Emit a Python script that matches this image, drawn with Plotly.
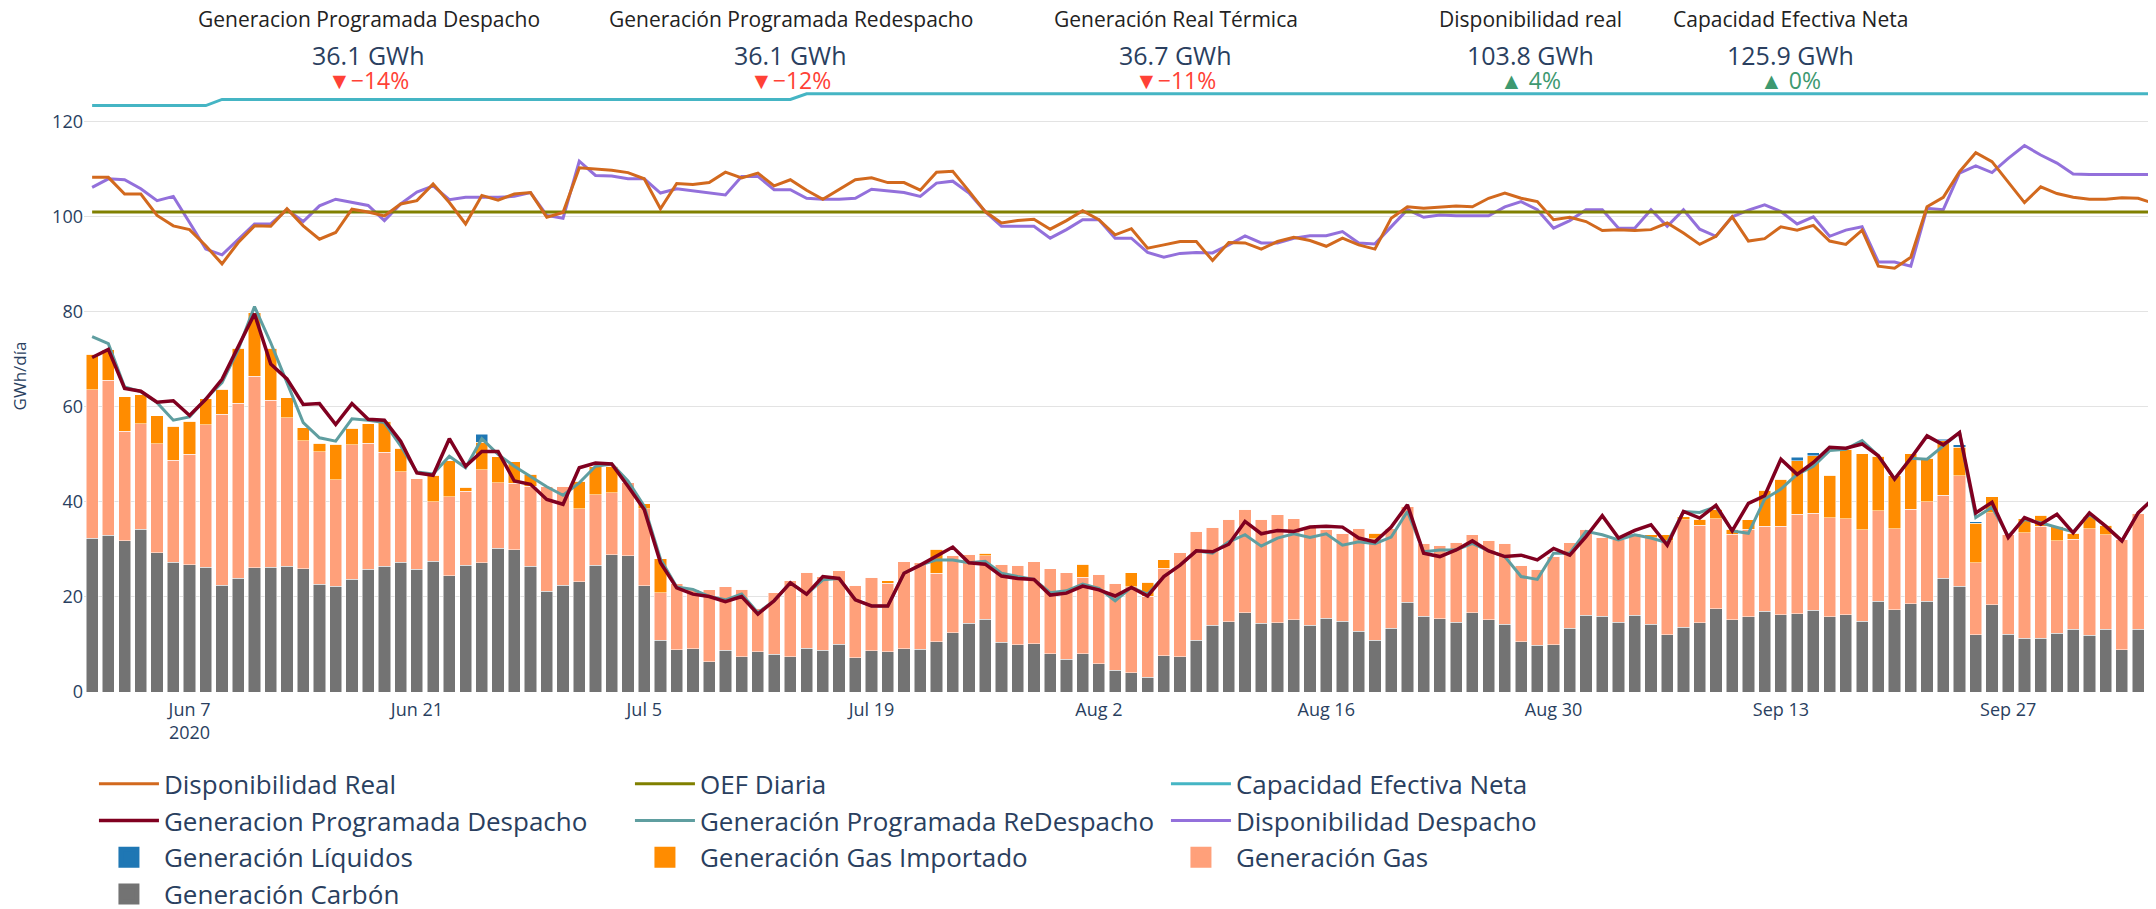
import plotly.graph_objects as go
import pandas as pd

# ---------------- data (Jun 1 2020 .. Oct 6 2020, daily) ----------------
dates = pd.date_range("2020-06-01", periods=128, freq="D").strftime("%Y-%m-%d").tolist()

carbon = [
    32.4, 33.0, 31.8, 34.2, 29.3, 27.3, 26.8, 26.3, 22.5, 23.9,
    26.1, 26.3, 26.5, 25.9, 22.7, 22.3, 23.7, 25.8, 26.5, 27.3,
    25.8, 27.5, 24.5, 26.7, 27.2, 30.3, 29.9, 26.5, 21.2, 22.5,
    23.2, 26.7, 28.9, 28.7, 22.4, 10.9, 8.9, 9.1, 6.4, 8.8,
    7.4, 8.5, 7.9, 7.4, 9.2, 8.8, 10.0, 7.2, 8.7, 8.5,
    9.1, 9.0, 10.6, 12.5, 14.5, 15.3, 10.5, 9.9, 10.2, 8.0,
    6.9, 8.1, 5.9, 4.6, 4.1, 3.1, 7.6, 7.4, 10.9, 14.0,
    14.8, 16.7, 14.5, 14.6, 15.2, 14.0, 15.5, 14.9, 12.8, 10.9,
    13.4, 18.9, 15.9, 15.4, 14.7, 16.7, 15.2, 14.3, 10.6, 9.8,
    9.9, 13.4, 16.1, 15.9, 14.7, 16.1, 14.3, 12.1, 13.6, 14.6,
    17.5, 15.2, 15.8, 17.0, 16.3, 16.5, 17.2, 15.8, 16.3, 14.9,
    19.1, 17.3, 18.6, 19.1, 23.9, 22.3, 12.0, 18.4, 12.2, 11.3,
    11.3, 12.4, 13.2, 11.9, 13.2, 8.9, 13.2, 18.2,
]

gas = [
    31.2, 32.6, 23.1, 22.3, 22.9, 21.5, 23.2, 29.9, 35.9, 36.9,
    40.3, 35.1, 31.2, 27.0, 27.9, 22.4, 28.3, 26.5, 24.0, 19.0,
    19.1, 12.5, 16.6, 15.6, 19.6, 13.7, 14.0, 16.8, 22.1, 20.8,
    15.4, 14.8, 13.0, 15.3, 16.2, 10.0, 13.9, 12.5, 15.1, 13.4,
    14.2, 9.1, 13.0, 16.0, 16.0, 15.5, 15.5, 15.3, 15.4, 14.4,
    18.3, 18.2, 14.4, 16.3, 14.5, 13.4, 16.4, 16.8, 17.2, 17.9,
    18.2, 16.0, 18.9, 18.3, 18.1, 17.0, 18.4, 21.9, 22.9, 20.7,
    21.6, 21.8, 21.9, 22.7, 21.3, 20.7, 18.7, 18.5, 21.7, 21.3,
    21.1, 20.1, 15.4, 15.5, 16.8, 16.4, 16.7, 17.0, 16.1, 16.0,
    18.6, 18.0, 18.1, 16.7, 17.3, 17.2, 18.2, 19.7, 22.6, 20.5,
    19.0, 18.0, 18.4, 17.9, 18.6, 20.9, 20.4, 20.9, 20.2, 19.2,
    19.0, 17.1, 19.9, 20.9, 17.5, 23.2, 15.2, 19.3, 21.0, 22.2,
    23.6, 19.4, 18.9, 22.5, 19.9, 23.2, 24.4, 23.2,
]

gas_importado = [
    7.5, 6.4, 7.2, 6.1, 5.9, 7.1, 7.0, 5.5, 5.3, 11.5,
    13.4, 10.9, 4.2, 2.7, 1.8, 7.4, 3.5, 4.2, 6.5, 5.0,
    0, 5.6, 7.6, 0.8, 5.8, 5.5, 4.6, 2.5, 0, 0,
    5.8, 5.9, 5.6, 0, 1.0, 7.1, 0, 0, 0, 0,
    0, 0, 0, 0, 0, 0, 0, 0, 0, 0.5,
    0, 0, 5.0, 0, 0, 0.5, 0, 0, 0, 0,
    0, 2.8, 0, 0, 2.9, 3.0, 1.8, 0, 0, 0,
    0, 0, 0, 0, 0, 0, 0, 0, 0, 1.2,
    0, 0, 0, 0, 0, 0, 0, 0, 0, 0,
    0, 0, 0, 0, 0, 0, 0.6, 1.3, 0.7, 1.3,
    2.0, 1.0, 2.1, 7.6, 9.9, 11.3, 12.1, 8.9, 14.6, 16.0,
    11.5, 11.1, 11.6, 9.2, 11.5, 6.0, 8.3, 3.4, 0, 3.0,
    2.3, 3.1, 1.3, 2.6, 2.0, 0, 0, 2.1,
]

liquidos = [
    0, 0, 0, 0, 0, 0, 0, 0, 0, 0,
    0, 0, 0, 0, 0, 0, 0, 0, 0, 0,
    0, 0, 0, 0, 1.6, 0, 0, 0, 0, 0,
    0, 0, 0, 0, 0, 0, 0, 0, 0, 0,
    0, 0, 0, 0, 0, 0, 0, 0, 0, 0,
    0, 0, 0, 0, 0, 0, 0, 0, 0, 0,
    0, 0, 0, 0, 0, 0, 0, 0, 0, 0,
    0, 0, 0, 0, 0, 0, 0, 0, 0, 0,
    0, 0, 0, 0, 0, 0, 0, 0, 0, 0,
    0, 0, 0, 0, 0, 0, 0, 0, 0, 0,
    0, 0, 0, 0, 0, 0.7, 0.7, 0, 0, 0,
    0, 0, 0, 0, 0.3, 0.5, 0.3, 0, 0, 0,
    0, 0, 0, 0, 0, 0, 0, 0,
]

gen_prog_despacho = [
    70.4, 72.1, 63.9, 63.3, 61.0, 61.3, 58.2, 61.6, 65.8, 72.5,
    79.6, 69.0, 65.9, 60.5, 60.7, 56.3, 60.7, 57.4, 57.2, 52.8,
    46.1, 45.6, 53.3, 47.5, 50.6, 50.6, 44.4, 43.7, 40.5, 39.5,
    47.2, 48.2, 48.0, 43.3, 38.4, 27.2, 21.9, 20.6, 20.1, 19.0,
    20.1, 16.4, 19.2, 23.0, 20.6, 24.3, 23.9, 19.4, 18.1, 18.1,
    25.0, 26.7, 28.5, 30.5, 27.2, 26.9, 24.4, 23.9, 23.7, 20.4,
    20.8, 22.3, 21.5, 20.2, 22.0, 20.2, 24.3, 26.7, 29.7, 29.5,
    31.1, 35.9, 33.3, 34.0, 33.8, 34.7, 34.9, 34.7, 32.4, 31.6,
    34.7, 39.4, 29.2, 28.5, 29.9, 31.8, 29.7, 28.5, 28.8, 27.8,
    30.2, 28.8, 32.7, 37.1, 32.4, 34.0, 35.2, 30.9, 38.0, 36.6,
    39.3, 33.9, 39.7, 41.3, 49.0, 45.8, 48.3, 51.5, 51.3, 52.2,
    49.7, 44.8, 49.2, 53.9, 52.0, 54.6, 37.7, 39.9, 32.5, 36.7,
    35.3, 37.4, 33.5, 37.7, 34.9, 31.8, 37.7, 40.9,
]

gen_prog_redespacho = [
    74.8, 73.3, 64.2, 63.2, 60.9, 57.2, 57.9, 61.7, 65.1, 72.1,
    81.1, 73.5, 65.1, 56.7, 53.5, 52.8, 57.5, 57.2, 56.7, 51.8,
    46.3, 45.9, 49.6, 47.2, 53.3, 50.0, 47.5, 45.4, 43.2, 41.4,
    44.0, 47.5, 48.0, 44.4, 39.1, 28.0, 22.1, 21.6, 20.1, 19.4,
    20.6, 16.7, 19.2, 23.0, 20.6, 23.6, 23.9, 19.4, 18.1, 18.1,
    25.0, 26.7, 27.8, 27.8, 27.2, 27.5, 25.0, 24.3, 23.7, 20.9,
    21.3, 22.7, 21.8, 19.2, 22.0, 20.6, 24.3, 26.7, 29.7, 29.2,
    31.6, 33.1, 30.7, 32.4, 33.3, 32.5, 33.3, 30.9, 31.6, 31.2,
    32.6, 38.0, 29.5, 29.9, 29.9, 31.3, 29.7, 28.5, 24.3, 23.7,
    29.2, 29.2, 33.8, 33.1, 32.0, 33.1, 32.4, 31.4, 38.0, 37.8,
    39.0, 33.9, 33.4, 40.6, 42.7, 45.8, 47.5, 50.8, 51.1, 52.9,
    49.7, 44.8, 49.2, 49.0, 51.8, 54.6, 36.7, 38.9, 32.8, 36.3,
    35.6, 34.6, 33.7, 37.4, 34.9, 31.8, 37.7, 40.9,
]

disponibilidad_real = [
    108.3, 108.3, 104.8, 104.8, 100.3, 98.1, 97.3, 93.9, 90.1, 94.6,
    98.1, 98.0, 101.7, 98.1, 95.3, 96.7, 101.6, 101.0, 100.2, 102.7,
    103.4, 106.9, 103.0, 98.5, 104.5, 103.5, 104.8, 105.1, 99.9, 100.9,
    110.3, 110.0, 109.8, 109.3, 108.0, 101.7, 107.0, 106.8, 107.2, 109.4,
    108.2, 109.2, 106.5, 107.8, 105.6, 103.7, 105.7, 107.8, 108.2, 107.2,
    107.2, 105.6, 109.4, 109.6, 105.4, 101.1, 98.7, 99.2, 99.5, 97.4,
    99.2, 101.3, 99.4, 96.2, 97.5, 93.4, 94.1, 94.8, 94.8, 90.8,
    94.6, 94.5, 93.2, 94.8, 95.7, 95.0, 93.8, 95.5, 94.1, 93.2,
    99.7, 102.1, 101.8, 102.1, 102.3, 102.1, 103.9, 105.0, 103.9, 103.2,
    99.4, 99.9, 99.0, 97.1, 97.3, 97.1, 97.3, 98.7, 96.6, 94.2,
    95.9, 100.0, 94.9, 95.4, 97.9, 97.2, 98.2, 94.9, 94.2, 97.2,
    89.6, 89.2, 91.5, 102.1, 104.1, 109.5, 113.5, 111.6, 107.4, 103.0,
    106.3, 104.9, 104.1, 103.7, 103.7, 104.0, 103.9, 102.8,
]

disponibilidad_despacho = [
    106.2, 108.0, 107.8, 105.9, 103.4, 104.3, 98.8, 93.2, 92.0, 95.3,
    98.5, 98.5, 101.5, 99.0, 102.3, 103.7, 103.1, 102.4, 99.2, 102.7,
    105.2, 106.5, 103.6, 104.1, 104.1, 104.1, 104.3, 105.1, 100.3, 99.7,
    111.7, 108.7, 108.6, 108.0, 108.0, 105.0, 105.9, 105.5, 105.0, 104.6,
    108.5, 108.5, 105.7, 105.7, 103.9, 103.7, 103.7, 103.9, 105.8, 105.4,
    105.1, 104.3, 107.1, 107.5, 105.0, 101.1, 98.0, 98.0, 98.0, 95.5,
    97.3, 99.4, 99.4, 95.5, 95.5, 92.5, 91.5, 92.3, 92.5, 92.4,
    94.1, 96.0, 94.5, 94.5, 95.5, 96.0, 96.0, 96.9, 94.5, 94.3,
    98.0, 101.5, 99.9, 100.4, 100.2, 100.2, 100.2, 102.1, 103.2, 101.5,
    97.6, 99.2, 101.5, 101.5, 97.6, 97.6, 101.5, 98.0, 101.5, 97.4,
    95.9, 100.0, 101.4, 102.5, 101.1, 98.5, 100.0, 95.9, 97.2, 97.9,
    90.5, 90.5, 89.6, 101.8, 101.5, 109.2, 110.7, 109.3, 112.3, 115.0,
    113.0, 111.3, 109.0, 108.9, 108.9, 108.9, 108.9, 108.9,
]

oef_diaria = [
    101.0, 101.0, 101.0, 101.0, 101.0, 101.0, 101.0, 101.0, 101.0, 101.0,
    101.0, 101.0, 101.0, 101.0, 101.0, 101.0, 101.0, 101.0, 101.0, 101.0,
    101.0, 101.0, 101.0, 101.0, 101.0, 101.0, 101.0, 101.0, 101.0, 101.0,
    101.0, 101.0, 101.0, 101.0, 101.0, 101.0, 101.0, 101.0, 101.0, 101.0,
    101.0, 101.0, 101.0, 101.0, 101.0, 101.0, 101.0, 101.0, 101.0, 101.0,
    101.0, 101.0, 101.0, 101.0, 101.0, 101.0, 101.0, 101.0, 101.0, 101.0,
    101.0, 101.0, 101.0, 101.0, 101.0, 101.0, 101.0, 101.0, 101.0, 101.0,
    101.0, 101.0, 101.0, 101.0, 101.0, 101.0, 101.0, 101.0, 101.0, 101.0,
    101.0, 101.0, 101.0, 101.0, 101.0, 101.0, 101.0, 101.0, 101.0, 101.0,
    101.0, 101.0, 101.0, 101.0, 101.0, 101.0, 101.0, 101.0, 101.0, 101.0,
    101.0, 101.0, 101.0, 101.0, 101.0, 101.0, 101.0, 101.0, 101.0, 101.0,
    101.0, 101.0, 101.0, 101.0, 101.0, 101.0, 101.0, 101.0, 101.0, 101.0,
    101.0, 101.0, 101.0, 101.0, 101.0, 101.0, 101.0, 101.0,
]

capacidad_efectiva_neta = [
    123.4, 123.4, 123.4, 123.4, 123.4, 123.4, 123.4, 123.4, 124.7, 124.7,
    124.7, 124.7, 124.7, 124.7, 124.7, 124.7, 124.7, 124.7, 124.7, 124.7,
    124.7, 124.7, 124.7, 124.7, 124.7, 124.7, 124.7, 124.7, 124.7, 124.7,
    124.7, 124.7, 124.7, 124.7, 124.7, 124.7, 124.7, 124.7, 124.7, 124.7,
    124.7, 124.7, 124.7, 124.7, 125.9, 125.9, 125.9, 125.9, 125.9, 125.9,
    125.9, 125.9, 125.9, 125.9, 125.9, 125.9, 125.9, 125.9, 125.9, 125.9,
    125.9, 125.9, 125.9, 125.9, 125.9, 125.9, 125.9, 125.9, 125.9, 125.9,
    125.9, 125.9, 125.9, 125.9, 125.9, 125.9, 125.9, 125.9, 125.9, 125.9,
    125.9, 125.9, 125.9, 125.9, 125.9, 125.9, 125.9, 125.9, 125.9, 125.9,
    125.9, 125.9, 125.9, 125.9, 125.9, 125.9, 125.9, 125.9, 125.9, 125.9,
    125.9, 125.9, 125.9, 125.9, 125.9, 125.9, 125.9, 125.9, 125.9, 125.9,
    125.9, 125.9, 125.9, 125.9, 125.9, 125.9, 125.9, 125.9, 125.9, 125.9,
    125.9, 125.9, 125.9, 125.9, 125.9, 125.9, 125.9, 125.9,
]

# KPI header
kpi_titles = ["Generacion Programada Despacho", "Generación Programada Redespacho",
              "Generación Real Térmica", "Disponibilidad real", "Capacidad Efectiva Neta"]
kpi_values = [36.1, 36.1, 36.7, 103.8, 125.9]
kpi_deltas = [-14, -12, -11, 4, 0]
kpi_x = [0.1375, 0.3412, 0.5270, 0.6979, 0.8234]

# ---------------- figure ----------------
fig = go.Figure()

bar_line = dict(color="white", width=0.5)
bar_specs = [
    ("Generación Carbón", carbon, "#737373"),
    ("Generación Gas", gas, "#FFA07A"),
    ("Generación Gas Importado", gas_importado, "#FF8C00"),
    ("Generación Líquidos", liquidos, "#1F77B4"),
]
for name, vals, col in bar_specs:
    fig.add_trace(go.Bar(x=dates, y=vals, name=name, legendgroup=name, showlegend=False,
                         marker=dict(color=col, line=bar_line)))
# legend entries for the bar series (larger square swatches)
for name, vals, col in bar_specs:
    fig.add_trace(go.Scatter(x=[None], y=[None], name=name, legendgroup=name,
                             mode="markers", hoverinfo="skip",
                             marker=dict(symbol="square", size=16, color=col,
                                         line=dict(color=col, width=5))))

fig.add_trace(go.Scatter(x=dates, y=disponibilidad_despacho, name="Disponibilidad Despacho",
                         mode="lines", line=dict(color="#9370DB", width=3)))
fig.add_trace(go.Scatter(x=dates, y=gen_prog_redespacho, name="Generación Programada ReDespacho",
                         mode="lines", line=dict(color="#5F9EA0", width=3)))
fig.add_trace(go.Scatter(x=dates, y=gen_prog_despacho, name="Generacion Programada Despacho",
                         mode="lines", line=dict(color="#800020", width=3.5)))
fig.add_trace(go.Scatter(x=dates, y=capacidad_efectiva_neta, name="Capacidad Efectiva Neta",
                         mode="lines", line=dict(color="#45B5C4", width=3)))
fig.add_trace(go.Scatter(x=dates, y=oef_diaria, name="OEF Diaria",
                         mode="lines", line=dict(color="#808000", width=3)))
fig.add_trace(go.Scatter(x=dates, y=disponibilidad_real, name="Disponibilidad Real",
                         mode="lines", line=dict(color="#D2691E", width=3)))

# KPI annotations (paper coords relative to plot area: top=60px, bottom=692px in page)
def y_of(px):
    return (692 - px) / 632.0

for t, v, d, x in zip(kpi_titles, kpi_values, kpi_deltas, kpi_x):
    fig.add_annotation(x=x, y=y_of(19), xref="paper", yref="paper", text=t,
                       showarrow=False, xanchor="center", yanchor="middle",
                       font=dict(size=21, color="#222222"))
    fig.add_annotation(x=x, y=y_of(55), xref="paper", yref="paper",
                       text=f"{v:.1f} GWh", showarrow=False,
                       xanchor="center", yanchor="middle",
                       font=dict(size=25, color="#2a3f5f"))
    if d < 0:
        dtxt, dcol = f"\u25BC\u2212{abs(d)}%", "#FF4136"
    else:
        dtxt, dcol = f"\u25B2 {d}%", "#3D9970"
    fig.add_annotation(x=x, y=y_of(80), xref="paper", yref="paper",
                       text=dtxt, showarrow=False, xanchor="center", yanchor="middle",
                       font=dict(size=23, color=dcol))

# page body has an 8px margin: the figure is sized/offset to compensate
fig.update_layout(
    template="plotly_white",
    width=2148, height=901,
    margin=dict(l=76, r=0, t=52, b=217, autoexpand=False),
    barmode="stack",
    bargap=0.25,
    font=dict(family="Open Sans, verdana, arial, sans-serif", color="#2a3f5f"),
    legend=dict(orientation="h", x=0.0048, xanchor="left", y=-0.108, yanchor="top",
                traceorder="reversed", font=dict(size=26), itemwidth=60,
                entrywidth=461, entrywidthmode="pixels"),
    xaxis=dict(type="date", range=["2020-05-31 12:00", "2020-10-06 02:24"],
               dtick=14 * 86400000, tick0="2020-06-07",
               showgrid=False, tickfont=dict(size=18), ticklabelstandoff=5),
    yaxis=dict(range=[0, 133], dtick=20, gridcolor="#E3E3E3", zeroline=False,
               tickfont=dict(size=18),
               title=dict(text="GWh/día", font=dict(size=17), standoff=21)),
)

fig.write_html("out.html")
